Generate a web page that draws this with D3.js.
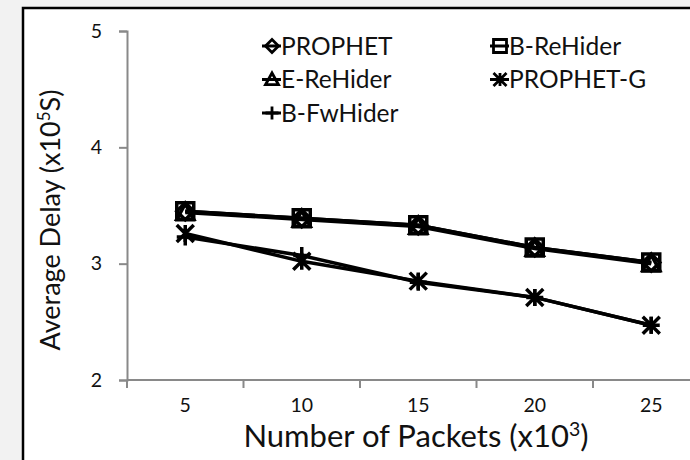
<!DOCTYPE html>
<html>
<head>
<meta charset="utf-8">
<script src="https://cdn.jsdelivr.net/npm/d3@7"></script>
<style>
  html, body { margin: 0; padding: 0; background: #f2f2f2; }
  svg { display: block; }
  text { font-family: Lato, "Open Sans", sans-serif; fill: #111; }
</style>
</head>
<body>
<svg id="chart" width="690" height="460"></svg>
<script>
/* Average delay vs number of packets — line chart with markers */

var categories = ["5", "10", "15", "20", "25"];
var yTicks = [2, 3, 4, 5];

// series values (x10^5 s)
var prophet  = [3.45, 3.39, 3.33, 3.14, 3.01];
var bReHider = [3.45, 3.39, 3.33, 3.14, 3.01];
var eReHider = [3.44, 3.38, 3.32, 3.13, 3.00];
var prophetG = [3.26, 3.02, 2.85, 2.71, 2.47];
var bFwHider = [3.23, 3.07, 2.84, 2.71, 2.47];

var seriesNames = ["PROPHET", "B-ReHider", "E-ReHider", "PROPHET-G", "B-FwHider"];
var seriesValues = [prophet, bReHider, eReHider, prophetG, bFwHider];
var seriesMarkers = ["diamond", "square", "triangle", "star", "plus"];

var svg = d3.select("#chart");

// white frame with black border (cropped on right and bottom)
svg.append("rect")
  .attr("x", 23).attr("y", 8)
  .attr("width", 700).attr("height", 470)
  .attr("fill", "#fff")
  .attr("stroke", "#000")
  .attr("stroke-width", 2.5);

var plot = { left: 127, top: 31, bottom: 380 };
var step = 116.5;

var x = d3.scaleBand()
  .domain(categories)
  .range([plot.left, plot.left + step * categories.length])
  .padding(0);

var y = d3.scaleLinear().domain([2, 5]).range([plot.bottom, plot.top]);

var axisColor = "#898989";

/* ---- Y axis ---- */
var yAxis = svg.append("g")
  .attr("transform", "translate(" + plot.left + ",0)")
  .call(d3.axisLeft(y).tickValues(yTicks).tickSize(8).tickPadding(17).tickFormat(d3.format("d")));
yAxis.selectAll("path, line").attr("stroke", axisColor).attr("stroke-width", 2);
yAxis.selectAll("text").attr("font-size", 19.5).attr("font-family", "Lato").attr("fill", "#111");

/* ---- X axis (ticks between categories) ---- */
var xAxis = svg.append("g");
xAxis.append("line")
  .attr("x1", plot.left).attr("x2", x.range()[1])
  .attr("y1", plot.bottom).attr("y2", plot.bottom)
  .attr("stroke", axisColor).attr("stroke-width", 2);
var bounds = categories.map(function (c) { return x(c); }).concat([x.range()[1]]);
xAxis.selectAll("line.tick")
  .data(bounds)
  .join("line")
  .attr("class", "tick")
  .attr("x1", function (d) { return d; }).attr("x2", function (d) { return d; })
  .attr("y1", plot.bottom).attr("y2", plot.bottom + 8)
  .attr("stroke", axisColor).attr("stroke-width", 2);
xAxis.selectAll("text")
  .data(categories)
  .join("text")
  .attr("x", function (d) { return x(d) + x.bandwidth() / 2; })
  .attr("y", 412)
  .attr("text-anchor", "middle")
  .attr("font-size", 19.5)
  .text(function (d) { return d; });

/* ---- Axis titles ---- */
var xTitle = svg.append("text")
  .attr("x", 416).attr("y", 447)
  .attr("text-anchor", "middle")
  .attr("font-size", 31);
xTitle.append("tspan").text("Number of Packets (x10");
xTitle.append("tspan").attr("font-size", 19.5).attr("dy", -11).text("3");
xTitle.append("tspan").attr("dy", 11).text(")");

var yTitle = svg.append("text")
  .attr("transform", "translate(60,220) rotate(-90)")
  .attr("text-anchor", "middle")
  .attr("font-size", 27);
yTitle.append("tspan").text("Average Delay (x10");
yTitle.append("tspan").attr("font-size", 17).attr("dy", -10).text("5");
yTitle.append("tspan").attr("dy", 10).text("S)");

/* ---- Marker shapes ---- */
function markerPath(type, r) {
  switch (type) {
    case "diamond":
      return "M0," + (-r) + "L" + r + ",0L0," + r + "L" + (-r) + ",0Z";
    case "square":
      return "M" + (-r) + "," + (-r) + "H" + r + "V" + r + "H" + (-r) + "Z";
    case "triangle":
      return "M0," + (-r) + "L" + r + "," + (r * 0.8) + "H" + (-r) + "Z";
    case "star":
      return "M" + (-r) + "," + (-r) + "L" + r + "," + r +
        "M" + r + "," + (-r) + "L" + (-r) + "," + r +
        "M0," + (-r) + "V" + r;
    case "plus":
      return "M" + (-r) + ",0H" + r + "M0," + (-r) + "V" + r;
  }
}

/* ---- Lines + markers ---- */
var line = d3.line()
  .x(function (d, i) { return x(categories[i]) + x.bandwidth() / 2; })
  .y(function (d) { return y(d); });

var series = seriesNames.map(function (name, i) {
  return { name: name, values: seriesValues[i], marker: seriesMarkers[i] };
});

var gSeries = svg.append("g").selectAll("g")
  .data(series)
  .join("g");

gSeries.append("path")
  .attr("d", function (d) { return line(d.values); })
  .attr("fill", "none")
  .attr("stroke", "#000")
  .attr("stroke-width", 3.5);

gSeries.each(function (s) {
  d3.select(this).selectAll("path.mk")
    .data(s.values)
    .join("path")
    .attr("class", "mk")
    .attr("transform", function (d, i) {
      return "translate(" + (x(categories[i]) + x.bandwidth() / 2) + "," + y(d) + ")";
    })
    .attr("d", markerPath(s.marker, 8.5))
    .attr("fill", "none")
    .attr("stroke", "#000")
    .attr("stroke-width", 3.5);
});

/* ---- Legend ---- */
var legend = svg.append("g").selectAll("g")
  .data(series)
  .join("g")
  .attr("transform", function (d, i) {
    var col = i === 4 ? 0 : i % 2;
    var row = i === 4 ? 2 : Math.floor(i / 2);
    return "translate(" + (272 + col * 228) + "," + (46 + row * 33.5) + ")";
  });

legend.append("line")
  .attr("x1", -10).attr("x2", 9)
  .attr("stroke", "#000").attr("stroke-width", 3);
legend.append("path")
  .attr("d", function (d) { return markerPath(d.marker, 6.5); })
  .attr("fill", "none")
  .attr("stroke", "#000")
  .attr("stroke-width", 2.8);
legend.append("text")
  .attr("x", 9)
  .attr("dy", "0.36em")
  .attr("font-size", 24.5)
  .text(function (d) { return d.name; });
</script>
</body>
</html>
